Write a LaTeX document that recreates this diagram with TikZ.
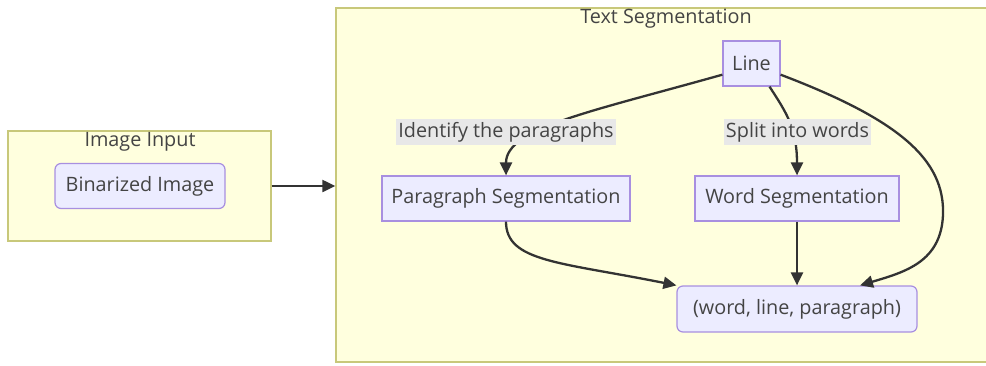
\documentclass[tikz,border=0pt]{standalone}
\usepackage{fontspec}
\setmainfont{Open Sans}
\usepackage{tikz}
\usetikzlibrary{arrows.meta,positioning}

\definecolor{clfill}{HTML}{FFFFDE}
\definecolor{cldraw}{HTML}{C8C87A}
\definecolor{ndfill}{HTML}{ECECFF}
\definecolor{nddraw}{HTML}{A88FE0}
\definecolor{edgecol}{HTML}{333333}
\definecolor{txtcol}{HTML}{444444}
\definecolor{lblfill}{HTML}{E8E8E8}

\tikzset{
  cluster/.style={draw=cldraw,fill=clfill,line width=1.4pt,inner sep=0pt},
  proc/.style={draw=nddraw,fill=ndfill,line width=1.2pt,text=txtcol,inner sep=0pt,minimum height=45pt},
  soft/.style={proc,rounded corners=6pt},
  lbl/.style={fill=lblfill,text=txtcol,inner sep=0pt,minimum height=26pt},
  title/.style={text=txtcol},
  edge/.style={draw=edgecol,line width=2.3pt,-{Triangle[length=13pt,width=12pt]}}
}

\begin{document}
\begin{tikzpicture}[x=1pt,y=-1pt,font=\fontsize{19.8}{23}\selectfont]
\useasboundingbox (0,0) rectangle (986,365);
\fill[white] (0,0) rectangle (986,365);

% clusters
\node[cluster,minimum width=263pt,minimum height=110pt] (imgin) at (139.5,186) {};
\node[title] (imgtitle) at (140,142) {Image Input};
\node[cluster,minimum width=670pt,minimum height=354pt] (textseg) at (671,185) {};
\node[title] (segtitle) at (666,19) {Text Segmentation};

% nodes
\node[soft,minimum width=170pt] (bin) at (140,186) {Binarized Image};
\node[proc,minimum width=57pt] (line) at (751.5,63.5) {Line};
\node[proc,minimum width=248pt] (para) at (506,198.5) {Paragraph Segmentation};
\node[proc,minimum width=204pt] (word) at (797,198.5) {Word Segmentation};
\node[soft,minimum width=240pt,minimum height=46pt] (res) at (797,309) {(word, line, paragraph)};

% edges
\draw[edge] (imgin.east) -- (imgin.east -| textseg.west);
\draw[edge] (line.201) .. controls (590,112) and (506,128) .. (para.north);
\draw[edge] ([xshift=18pt]line.south) .. controls (786,112) and (797,128) .. (word.north);
\draw[edge] (line.-21) .. controls (900,120) and (945,160) .. (943,215)
  .. controls (941,262) and (905,272) .. ([xshift=63pt]res.north);
\draw[edge] (para.south) .. controls (506,262) and (560,262) .. (res.north west);
\draw[edge] (word.south) -- (res.north);

% edge labels
\node[lbl,minimum width=220pt] (lblpara) at (506,132) {Identify the paragraphs};
\node[lbl,minimum width=147pt] (lblword) at (797.5,132) {Split into words};
\end{tikzpicture}
\end{document}
